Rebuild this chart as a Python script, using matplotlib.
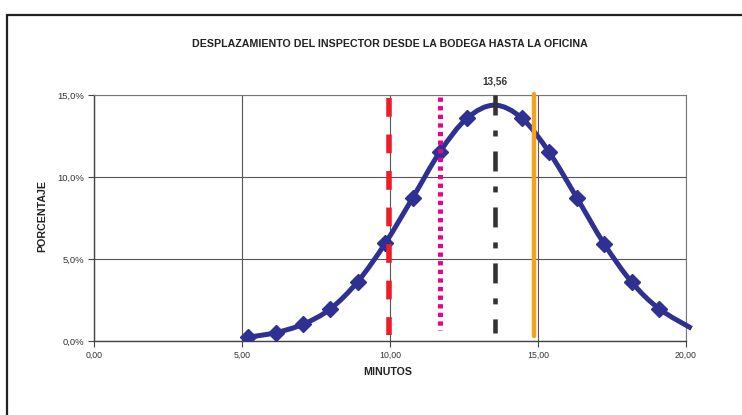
import numpy as np
import matplotlib
matplotlib.use("Agg")
import matplotlib.pyplot as plt
from matplotlib.path import Path
from matplotlib.patches import PathPatch, Rectangle

plt.rcParams['font.family'] = ['Liberation Sans', 'DejaVu Sans']
plt.rcParams['lines.scale_dashes'] = False

# Distribucion del tiempo de desplazamiento (minutos, porcentaje)
minutos = [5.21, 6.14, 7.06, 7.98, 8.91, 9.84, 10.77, 11.69, 12.60,
           13.53, 14.46, 15.38, 16.31, 17.23, 18.16, 19.08, 20.19]
porcentaje = [0.23, 0.51, 1.02, 1.95, 3.62, 5.96, 8.74, 11.54, 13.58,
              14.38, 13.58, 11.50, 8.74, 5.94, 3.60, 1.98, 0.77]

# Lineas de referencia verticales
x_rojo = 9.97
x_rosa = 11.69
x_media = 13.56
x_naranja = 14.86

titulo = 'DESPLAZAMIENTO DEL INSPECTOR DESDE LA BODEGA HASTA LA OFICINA'
xticks = [0, 5, 10, 15, 20]
yticks = [0, 5, 10, 15]

AZUL = '#2E3192'


def curva_suave(xs, ys):
    # bezier tipo Catmull-Rom entre puntos consecutivos (linea suavizada)
    pts = np.column_stack([xs, ys])
    verts = [pts[0]]
    codes = [Path.MOVETO]
    n = len(pts)
    for i in range(n - 1):
        p0 = pts[i - 1] if i > 0 else pts[i]
        p1 = pts[i]
        p2 = pts[i + 1]
        p3 = pts[i + 2] if i + 2 < n else pts[i + 1]
        c1 = p1 + (p2 - p0) / 6.0
        c2 = p2 - (p3 - p1) / 6.0
        verts += [c1, c2, p2]
        codes += [Path.CURVE4] * 3
    return Path(verts, codes)


fig = plt.figure(figsize=(7.42, 4.15), dpi=100)
ax = fig.add_axes([94 / 742, 1 - 341 / 415, 592 / 742, 246 / 415])

# marco exterior del grafico
fig.patches.append(Rectangle((7 / 742, -0.05), 1.2, 1 - 15 / 415 + 0.05,
                             transform=fig.transFigure, fill=False,
                             edgecolor='#222222', linewidth=1.6))

ax.set_xlim(0, 20)
ax.set_ylim(0, 15)
ax.set_xticks(xticks)
ax.set_yticks(yticks)
ax.set_xticklabels([f'{v:.2f}'.replace('.', ',') for v in xticks])
ax.set_yticklabels([f'{v:.1f}%'.replace('.', ',') for v in yticks])
ax.tick_params(axis='x', labelsize=6.3)
ax.tick_params(axis='y', labelsize=6.8)
ax.tick_params(colors='#444444', length=4, width=0.8,
               labelcolor='#333333', pad=3)
ax.grid(True, color='#555555', linewidth=0.8)
ax.set_axisbelow(True)
for s in ['top', 'right']:
    ax.spines[s].set_color('#777777')
    ax.spines[s].set_linewidth(0.8)
for s in ['left', 'bottom']:
    ax.spines[s].set_color('#444444')
    ax.spines[s].set_linewidth(1.0)

# curva de la distribucion
ax.add_patch(PathPatch(curva_suave(minutos, porcentaje), fill=False,
                       edgecolor=AZUL, linewidth=3.6, clip_on=False,
                       zorder=3, capstyle='butt'))
marcas = [i for i in range(len(minutos)) if i not in (9, len(minutos) - 1)]
ax.plot([minutos[i] for i in marcas], [porcentaje[i] for i in marcas],
        linestyle='none', marker='D', markersize=8.5, color=AZUL, zorder=4)

# lineas verticales (trazadas de arriba hacia abajo)
ax.plot([x_rojo, x_rojo], [14.82, 0.37], color='#EE1C25', linewidth=4,
        dashes=(13.5, 12.8), zorder=5, solid_capstyle='butt')
ax.plot([x_rosa, x_rosa], [14.9, 0.67], color='#EC008C', linewidth=3.6,
        dashes=(3.1, 3.1), zorder=5)
ax.plot([x_media, x_media], [15.0, 0.47], color='#333333', linewidth=3.3,
        dashes=(14.4, 10.8, 4.3, 10.8), zorder=5, clip_on=False)
ax.plot([x_naranja, x_naranja], [0.3, 15.05], color='#F7A21B', linewidth=3.2,
        zorder=5, clip_on=False, solid_capstyle='round')
ax.text(x_media, 15.85, f'{x_media:.2f}'.replace('.', ','), ha='center',
        va='center', fontsize=7.2, fontweight='bold', color='#333333')

fig.text(390 / 742, 1 - 44 / 415, titulo, ha='center', va='center',
         fontsize=7.7, fontweight='bold', color='#222222')
fig.text(388 / 742, 1 - 372 / 415, 'MINUTOS', ha='center', va='center',
         fontsize=7.7, fontweight='bold', color='#222222')
fig.text(42 / 742, 1 - 216 / 415, 'PORCENTAJE', ha='center', va='center',
         rotation=90, fontsize=7.7, fontweight='bold', color='#222222')

fig.savefig('out.png', dpi=100)
